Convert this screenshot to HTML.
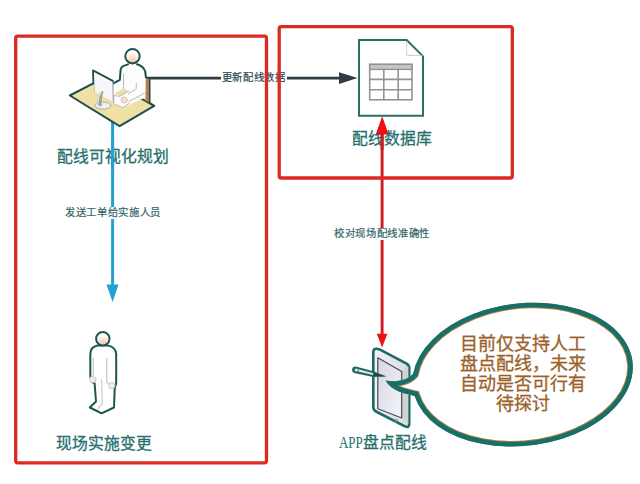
<!DOCTYPE html>
<html lang="zh-CN"><head><meta charset="utf-8">
<style>
html,body{margin:0;padding:0;background:#fff;}
body{width:640px;height:484px;position:relative;overflow:hidden;font-family:"Liberation Sans",sans-serif;}
svg{position:absolute;left:0;top:0;}
.t{position:absolute;white-space:nowrap;line-height:1;}
.s{font-size:10.4px;color:#336666;-webkit-text-stroke:0.2px #336666;background:#fff;letter-spacing:0.65px;}
.l{font-size:15.8px;color:#25706e;-webkit-text-stroke:0.3px #25706e;}
.b{font-size:18px;color:#9a6128;-webkit-text-stroke:0.3px #9a6128;line-height:20.3px;text-align:center;}
</style></head><body>
<svg width="640" height="484" viewBox="0 0 640 484">
  <defs>
    <radialGradient id="face" cx="0.5" cy="0.85" r="0.6">
      <stop offset="0" stop-color="#f6c2a8"/>
      <stop offset="0.6" stop-color="#fbe6dc"/>
      <stop offset="1" stop-color="#ffffff"/>
    </radialGradient>
    <linearGradient id="scr" x1="0" y1="0" x2="1" y2="1">
      <stop offset="0" stop-color="#d6d6e2"/>
      <stop offset="1" stop-color="#f4f4fa"/>
    </linearGradient>
    <linearGradient id="tab" x1="0" y1="0" x2="1" y2="0">
      <stop offset="0" stop-color="#f2f4f6"/>
      <stop offset="1" stop-color="#d8dcde"/>
    </linearGradient>
  </defs>
  <!-- dark connector line -->
  <line x1="146.5" y1="78.1" x2="342" y2="78.1" stroke="#2e3c44" stroke-width="2.6"/>
  <polygon points="339,72.2 357.5,78.1 339,84" fill="#2e3c44"/>
  <!-- blue vertical arrow -->
  <line x1="112.6" y1="121" x2="112.6" y2="286" stroke="#22a1d2" stroke-width="3"/>
  <polygon points="106.5,284.5 118.5,284.5 112.6,302" fill="#22a1d2"/>
  <!-- red double arrow -->
  <line x1="382.1" y1="130" x2="382.1" y2="336" stroke="#d21a1e" stroke-width="2.9"/>
  <polygon points="376,134.3 388.4,134.3 382.2,116.8" fill="#ee1111"/>
  <polygon points="376.8,333.8 387.4,333.8 382.1,347.6" fill="#ee1111"/>

  <!-- ===== desk / planner icon ===== -->
  <g stroke-linejoin="round" stroke-linecap="round">
    <!-- desk -->
    <polygon points="69.8,95.5 104.4,77.6 154.2,105.8 119.6,126.2" fill="#efe1a4" stroke="#1f4f4c" stroke-width="2"/>
    <!-- chair back -->
    <polygon points="145.3,79.5 149.6,78.3 149.6,102.6 145.3,100.8" fill="#c07a45"/>
    <path d="M149.7,78 L149.7,103 L154.2,105.8" fill="none" stroke="#1f4f4c" stroke-width="1.6"/>
    <!-- body -->
    <polygon points="128,64.4 121,67 119.8,79.8 113,83.6 113.6,103.8 122.8,107.6 145.3,97.5 145.6,77 144.6,69 137,64.2" fill="#fdfdfd"/>
    <path d="M113,83.6 L119.8,79.8 L120.6,70 Q121,66.6 125,65.4 L128,64.4 M137,64.2 Q143.6,66 145.2,71.5 L146,77.6" fill="none" stroke="#1f4f4c" stroke-width="2"/>
    <!-- lap -->
    <polygon points="114.5,93.3 123.5,88.4 128.8,91 119.8,96.3" fill="#ece0a8"/>
    <g fill="none" stroke="#b9b9b9" stroke-width="1">
      <path d="M123.5,74 L123.5,88.4"/>
      <path d="M136.3,83.5 L136.3,88.8 L128.3,93.8"/>
      <path d="M144.5,93.2 L128.8,101.5"/>
      <path d="M113.8,95.5 L119.8,96.3 L128.8,91"/>
      <path d="M113.8,95.5 L113.8,103.8 L122.8,107.5 L129.5,103"/>
    </g>
    <!-- hand -->
    <circle cx="124.2" cy="100" r="3" fill="#f7dccf" stroke="#c9b7ad" stroke-width="0.8"/>
    <!-- head -->
    <circle cx="132.5" cy="56.2" r="7.2" fill="url(#face)" stroke="#1f4f4c" stroke-width="2"/>
    <!-- monitor -->
    <polygon points="93,70.4 112.8,80.9 113.3,101.7 94,91.6" fill="#f7f7f7"/>
    <path d="M112.8,80.9 L113.3,101.7" fill="none" stroke="#a8a8a8" stroke-width="1.2"/>
    <path d="M112.8,80.9 L93,70.4 L93.4,83.8" fill="none" stroke="#1f4f4c" stroke-width="1.8"/>
    <path d="M94.2,84 L94.4,92" fill="none" stroke="#bbbbbb" stroke-width="1"/>
    <!-- stand -->
    <ellipse cx="102.9" cy="105.6" rx="8" ry="3.6" fill="#eeeeee" stroke="#a6a6a6" stroke-width="0.9"/>
    <path d="M97,105 Q97.2,95.5 101.4,91 L103.6,91.6 Q101.4,97.5 101.6,106.2 Z" fill="#a0a0a0"/>
    <path d="M97.6,104.6 Q97.9,96.5 101.2,91.8" fill="none" stroke="#ffffff" stroke-width="0.9"/>
  </g>

  <!-- ===== database document icon ===== -->
  <path d="M359,40 L406.7,40 L423,56.3 L423,115.8 L359,115.8 Z" fill="#fff" stroke="#2c6f66" stroke-width="2" stroke-linejoin="miter"/>
  <path d="M406.7,41 L406.7,55.5 L422,55.5" fill="none" stroke="#cfcfcf" stroke-width="1"/>
  <g fill="none" stroke="#939393" stroke-width="1.6">
    <rect x="369.7" y="64.4" width="42.3" height="35.4" fill="#fff"/>
    <rect x="369.7" y="64.4" width="42.3" height="5" fill="#c6c6c6" stroke-width="1.4"/>
    <line x1="369.7" y1="79.4" x2="412" y2="79.4"/>
    <line x1="369.7" y1="89.8" x2="412" y2="89.8"/>
    <line x1="383.8" y1="69.4" x2="383.8" y2="99.8"/>
    <line x1="398.2" y1="69.4" x2="398.2" y2="99.8"/>
  </g>

  <!-- ===== standing person ===== -->
  <g stroke-linejoin="round" stroke-linecap="round">
    <path d="M97.5,345.6 Q90.4,347 90.3,354 L90.3,376 Q90.6,383 94.6,383.2 L96,401.5 L89.8,407.5 L97,411 L101.5,413.3 L114,407.5 L114.7,388.5 L116.2,383 L116.2,354 Q116,347.5 108.2,345.6 Z" fill="#fff" stroke="#1f5550" stroke-width="2"/>
    <path d="M93.2,358 L93.2,376" stroke="#c6c6c6" stroke-width="1.2" fill="none"/>
    <path d="M106.7,358 L106.7,380 Q107,384 110,385" stroke="#c6c6c6" stroke-width="1.2" fill="none"/>
    <path d="M101.6,380 L102.2,403.6 L98,408.5" stroke="#cccccc" stroke-width="1.2" fill="none"/>
    <circle cx="92.8" cy="379.6" r="3.2" fill="#f2ece6" stroke="#c8bfb6" stroke-width="0.8"/>
    <circle cx="111.8" cy="385.6" r="3.2" fill="#f2ece6" stroke="#c8bfb6" stroke-width="0.8"/>
    <circle cx="102.8" cy="338.8" r="6.7" fill="url(#face)" stroke="#1f5550" stroke-width="2"/>
  </g>

  <!-- ===== tablet ===== -->
  <g stroke-linejoin="round">
    <path d="M373.3,352 Q373.3,348.6 376.6,348.8 Q379,349 382,350.6 L407,363.8 Q409.2,365 409.2,368 L409.2,424 Q409.2,428 405.5,426.6 L376,411.5 Q373.3,410 373.3,407 Z" fill="url(#tab)" stroke="#1a6a66" stroke-width="2.6"/>
    <path d="M401.7,371.6 L408.4,366.5 L408.4,424 L401.7,418 Z" fill="#d0d4d6"/>
    <polygon points="377.8,357.8 401.7,371.6 401.7,418 377.8,408.8" fill="url(#scr)" stroke="#4a4a52" stroke-width="1.2"/>
    <circle cx="396.2" cy="420.6" r="1.4" fill="none" stroke="#8a8a8a" stroke-width="0.7"/>
  </g>
  <!-- stylus -->
  <g>
    <path d="M355.8,366.4 L373.4,371.2 L386.8,376.6 L373.4,377 L355.2,373.2 A3.4,3.4 0 0 1 355.8,366.4 Z" fill="#1c6964"/>
    <path d="M373.4,372.6 L385,376.5 L373.4,375.8 Z" fill="#3a3a3a"/>
    <path d="M358.5,369.2 L373.2,373.3 L373.2,374.9 L358.3,371.4 Z" fill="#e6ecec"/>
    <circle cx="356.3" cy="369.9" r="1.5" fill="#e6ecec"/>
  </g>

  <!-- ===== speech bubble ===== -->
  <defs>
    <clipPath id="bc"><path id="bp" d="M413.24,373.66 A110.6,71.27 -6.62 1 1 414.61,395.93 C405,393.5 392,391.5 385.5,380.5 C395,382.5 407,380.5 413.24,373.66 Z"/></clipPath>
  </defs>
  <use href="#bp" fill="#fff"/>
  <g clip-path="url(#bc)">
    <use href="#bp" fill="none" stroke="#b07a42" stroke-width="11.2"/>
    <use href="#bp" fill="none" stroke="#13716a" stroke-width="9.2"/>
  </g>
</svg>

<!-- labels on lines -->
<div class="t s" style="left:220.8px;top:73px;padding:0 1px;color:#2c4c50;-webkit-text-stroke:0.2px #2c4c50;">更新配线数据</div>
<div class="t s" style="left:65px;top:206.6px;padding:1px 0;">发送工单给实施人员</div>
<div class="t s" style="left:334px;top:227.6px;padding:1px 0;">校对现场配线准确性</div>

<svg width="640" height="484" viewBox="0 0 640 484">
  <!-- red boxes -->
  <rect x="15.7" y="36.2" width="250.8" height="426.6" rx="2" fill="none" stroke="#db2a22" stroke-width="3.3"/>
  <rect x="279.2" y="26.6" width="233.1" height="151.4" rx="2" fill="none" stroke="#db2a22" stroke-width="3.3"/>
</svg>

<div class="t l" style="left:56.5px;top:148.7px;">配线可视化规划</div>
<div class="t l" style="left:352px;top:130.5px;">配线数据库</div>
<div class="t l" style="left:55.6px;top:435.7px;">现场实施变更</div>
<div class="t l" style="left:339px;top:435.3px;"><span style="font-family:'Liberation Serif',serif;-webkit-text-stroke:0;display:inline-block;transform:scaleX(0.82);transform-origin:0 0;margin-right:-5px;">APP</span>盘点配线</div>

<div class="t b" style="left:452px;top:333.5px;width:141px;white-space:normal;">目前仅支持人工<br>盘点配线，未来<br>自动是否可行有<br>待探讨</div>

<svg width="640" height="484" viewBox="0 0 640 484" style="pointer-events:none">
  <!-- overlays drawn above labels -->
  <line x1="112.6" y1="140" x2="112.6" y2="170" stroke="#22a1d2" stroke-width="3"/>
  <line x1="382.1" y1="126" x2="382.1" y2="150" stroke="#d21a1e" stroke-width="2.9"/>
  <polygon points="376,134.3 388.4,134.3 382.2,116.8" fill="#ee1111"/>
</svg>

</body></html>
